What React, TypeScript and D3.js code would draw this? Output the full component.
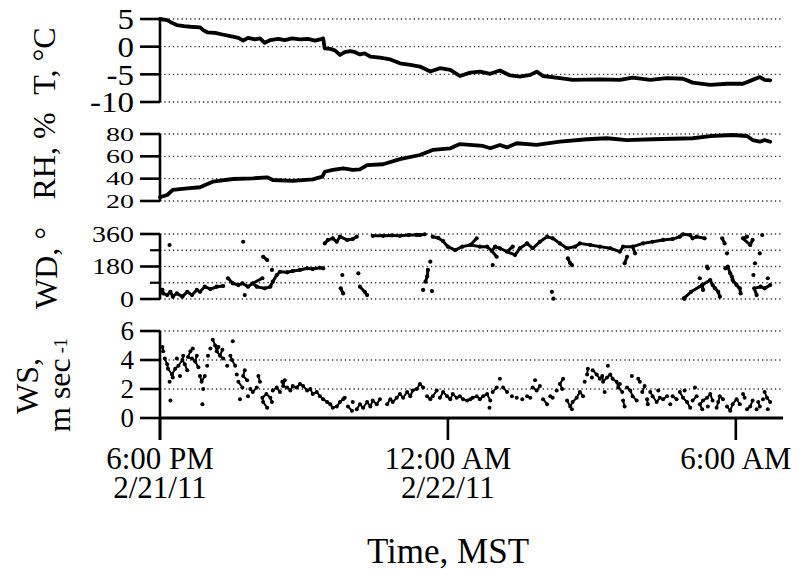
import React from 'react';
import * as d3 from 'd3';

// minutes after 6:00 PM MST, 2/21/11
const temperature: [number, number][] = [
  [0, 5.0], [9, 4.8], [15, 4.3], [21, 3.9], [30, 3.7], [38, 3.6], [50, 3.5], [54, 3.0], [59, 2.6], [69, 2.5],
  [78, 2.2], [88, 1.9], [98, 1.6], [104, 1.1], [110, 1.6], [119, 1.3], [125, 1.5], [131, 0.7], [138, 1.2],
  [148, 1.4], [156, 1.2], [165, 1.5], [175, 1.3], [185, 1.4], [194, 1.1], [200, 1.3], [204, 1.5], [206, -0.3],
  [213, -0.4], [219, -0.7], [225, -1.5], [231, -1.0], [238, -0.8], [244, -1.0], [250, -1.4], [256, -1.2],
  [263, -1.8], [275, -2.0], [288, -2.3], [300, -3.0], [313, -3.3], [325, -3.6], [338, -4.5], [350, -3.9],
  [363, -4.2], [375, -5.3], [388, -4.7], [400, -4.5], [413, -4.9], [425, -4.3], [438, -5.2], [450, -5.4],
  [463, -5.1], [471, -4.5], [479, -5.3], [500, -5.7], [516, -6.0], [550, -5.9], [575, -6.0], [591, -5.6],
  [613, -6.0], [634, -5.7], [654, -5.8], [666, -6.5], [688, -6.9], [709, -6.7], [729, -6.7], [741, -6.0],
  [750, -5.5], [756, -6.0], [763, -6.1],
];

const humidity: [number, number][] = [
  [0, 23.4], [9, 25.4], [16, 29.9], [34, 31.4], [50, 32.3], [66, 37.3], [91, 39.7], [116, 40.3], [134, 41.2],
  [141, 38.8], [166, 38.0], [191, 39.4], [203, 41.8], [206, 46.2], [216, 47.8], [229, 49.3], [241, 47.8],
  [250, 48.4], [259, 52.2], [279, 52.9], [300, 57.5], [325, 61.2], [341, 65.7], [363, 67.2], [375, 71.0],
  [404, 69.3], [413, 67.2], [425, 70.2], [434, 68.0], [446, 71.7], [471, 70.2], [500, 73.1], [534, 75.3],
  [559, 76.2], [584, 74.6], [616, 75.3], [666, 76.2], [688, 78.2], [716, 79.1], [734, 78.2], [741, 74.6],
  [750, 73.1], [756, 74.6], [763, 73.1],
];

const windDirection: [number, number][] = [
  [3, 50], [4, 31], [9, 22], [12, 299], [13, 40], [16, 13], [21, 31], [28, 13], [34, 40], [40, 22], [46, 50],
  [50, 40], [56, 68], [63, 55], [71, 68], [79, 72], [85, 115], [91, 87], [98, 77], [103, 87], [104, 317],
  [106, 22], [110, 68], [116, 87], [121, 68], [128, 115], [129, 234], [131, 59], [134, 216], [138, 68],
  [140, 161], [141, 96], [146, 133], [150, 151], [159, 148], [166, 155], [175, 161], [184, 170], [191, 166],
  [200, 173], [204, 170], [206, 308], [210, 327], [216, 336], [221, 317], [225, 345], [226, 59], [228, 133],
  [229, 31], [234, 327], [241, 332], [246, 345], [248, 142], [250, 68], [256, 40], [259, 22], [266, 350],
  [279, 350], [290, 352], [300, 350], [311, 354], [321, 355], [325, 354], [329, 50], [331, 358], [332, 96],
  [334, 124], [335, 161], [338, 207], [340, 44], [341, 345], [348, 338], [354, 320], [360, 290], [369, 271],
  [378, 290], [388, 299], [396, 336], [400, 290], [409, 290], [415, 266], [416, 188], [419, 290], [421, 234],
  [425, 281], [434, 262], [441, 290], [444, 244], [450, 281], [459, 308], [466, 281], [475, 317], [484, 345],
  [490, 40], [491, 336], [492, 2], [500, 308], [509, 281], [510, 225], [513, 198], [515, 188], [519, 290],
  [525, 308], [538, 299], [550, 290], [563, 281], [575, 262], [579, 290], [581, 198], [584, 234], [591, 290],
  [594, 253], [604, 308], [616, 317], [629, 327], [641, 332], [650, 345], [654, 358], [655, 4], [656, 2],
  [663, 354], [664, 40], [666, 336], [671, 345], [675, 115], [678, 77], [679, 50], [681, 336], [684, 179],
  [685, 170], [688, 105], [691, 77], [694, 59], [698, 40], [700, 13], [703, 336], [706, 308], [707, 170],
  [709, 253], [710, 179], [713, 142], [715, 124], [716, 105], [721, 77], [725, 59], [726, 31], [729, 336],
  [734, 345], [738, 299], [741, 327], [742, 133], [743, 59], [744, 198], [746, 22], [750, 253], [751, 68],
  [753, 354], [756, 59], [760, 115], [763, 77],
];

const windSpeed: [number, number][] = [
  [3, 4.9], [4, 4.6], [6, 4.1], [9, 3.7], [10, 3.4], [12, 2.5], [13, 1.2], [15, 3.0], [16, 2.8], [19, 3.4],
  [21, 4.1], [23, 3.6], [25, 2.9], [28, 4.0], [29, 4.3], [31, 3.7], [34, 3.3], [35, 4.2], [38, 4.6], [40, 4.1],
  [41, 4.8], [44, 3.9], [46, 4.3], [48, 3.5], [50, 2.9], [52, 2.5], [53, 0.95], [54, 2.0], [56, 2.9], [59, 3.6],
  [60, 4.3], [63, 4.8], [66, 5.4], [69, 5.0], [71, 4.6], [73, 4.9], [75, 4.3], [78, 4.7], [79, 4.1], [84, 3.6],
  [88, 4.3], [90, 4.0], [91, 5.3], [94, 3.6], [96, 3.0], [98, 2.5], [100, 1.3], [103, 2.1], [104, 2.9],
  [106, 3.3], [109, 2.6], [110, 1.5], [113, 2.0], [116, 1.8], [121, 2.1], [123, 2.9], [125, 2.5], [128, 1.4],
  [129, 1.1], [133, 1.65], [134, 0.7], [138, 1.4], [140, 1.1], [141, 1.9], [146, 2.1], [150, 1.8], [153, 2.5],
  [154, 2.2], [156, 2.6], [159, 2.1], [163, 1.9], [166, 2.2], [171, 2.1], [175, 2.35], [179, 2.2], [184, 1.9],
  [188, 2.0], [191, 1.65], [196, 1.8], [200, 1.5], [204, 1.3], [209, 1.1], [213, 0.95], [216, 0.7], [221, 0.8],
  [225, 1.1], [229, 1.3], [231, 1.4], [235, 0.8], [240, 0.5], [241, 1.1], [246, 0.6], [250, 0.95], [254, 0.7],
  [259, 1.1], [263, 0.8], [266, 1.2], [271, 0.95], [275, 1.3], [284, 0.95], [288, 1.3], [291, 1.1], [296, 1.4],
  [300, 1.65], [304, 1.4], [309, 1.8], [313, 1.5], [316, 1.9], [321, 2.0], [325, 2.35], [329, 2.1], [334, 1.5],
  [338, 1.3], [341, 1.5], [346, 1.9], [350, 1.4], [354, 1.8], [359, 1.5], [363, 1.3], [366, 1.65], [371, 1.4],
  [375, 1.5], [379, 1.3], [384, 1.2], [388, 1.3], [391, 1.4], [396, 1.5], [400, 1.3], [404, 1.5], [409, 1.65],
  [412, 0.7], [413, 1.2], [416, 1.8], [421, 2.1], [425, 2.7], [429, 2.1], [434, 1.8], [440, 1.5], [446, 1.4],
  [453, 1.3], [459, 1.5], [463, 1.4], [466, 2.1], [469, 2.6], [471, 1.9], [475, 2.2], [479, 1.3], [484, 0.95],
  [488, 1.5], [491, 1.4], [496, 1.9], [500, 2.35], [503, 2.0], [504, 2.7], [509, 1.2], [513, 0.8], [515, 0.6],
  [516, 1.1], [521, 1.4], [525, 1.8], [529, 1.5], [531, 2.5], [534, 3.0], [535, 3.4], [540, 2.8], [541, 3.3],
  [546, 3.0], [550, 2.7], [553, 2.9], [554, 2.5], [556, 1.8], [559, 2.8], [560, 3.6], [563, 3.0], [566, 2.7],
  [571, 2.5], [573, 2.1], [575, 2.35], [578, 1.8], [579, 1.2], [581, 0.8], [584, 2.1], [588, 1.9], [590, 2.9],
  [591, 1.5], [596, 1.2], [598, 2.7], [600, 2.5], [603, 1.8], [606, 2.2], [609, 1.3], [610, 0.95], [613, 1.8],
  [616, 1.5], [621, 1.1], [623, 1.9], [625, 1.4], [629, 1.3], [634, 1.5], [638, 0.95], [641, 1.5], [646, 1.3],
  [650, 1.8], [654, 1.4], [656, 1.9], [659, 1.1], [663, 0.7], [666, 1.2], [669, 2.1], [671, 1.5], [675, 0.95],
  [678, 0.6], [679, 1.2], [684, 1.4], [685, 0.8], [688, 1.65], [691, 1.2], [696, 0.7], [698, 1.1], [700, 1.5],
  [704, 1.3], [709, 0.8], [713, 0.5], [716, 0.95], [721, 1.3], [725, 0.95], [729, 1.65], [731, 1.4], [734, 0.6],
  [738, 0.8], [741, 1.2], [746, 0.6], [748, 1.1], [750, 0.8], [754, 1.3], [756, 1.8], [759, 1.4], [760, 0.6],
  [763, 1.1],
];

const tempTicks = [5, 0, -5, -10];
const rhTicks = [80, 60, 40, 20];
const wdTicks = [360, 180, 0];
const wdMinorTicks = [270, 90];
const wsTicks = [6, 4, 2, 0];

const timeTickMinutes = [0, 360, 720];
const timeTickLabels = ['6:00 PM', '12:00 AM', '6:00 AM'];
const dateTickLabels = ['2/21/11', '2/22/11', ''];

const START = new Date(2011, 1, 21, 18, 0);
const at = (m: number) => new Date(START.getTime() + m * 60000);

const FONT = "'Liberation Serif', 'Times New Roman', serif";
const X0 = 160;
const X1 = 783;

const x = d3.scaleTime().domain([at(0), at(779)]).range([X0, X1]);

type Panel = {
  domain: [number, number];
  range: [number, number];
  ticks: number[];
  minor: number[];
  grid: number[];
  font: number;
  sx: number;
  sy: number;
  axisBottom: number;
};

const panels: Panel[] = [
  { domain: [-10, 5], range: [102, 19], ticks: tempTicks, minor: [], grid: tempTicks, font: 30, sx: 1.1, sy: 1.0, axisBottom: 102 },
  { domain: [20, 80], range: [201, 134], ticks: rhTicks, minor: [], grid: rhTicks, font: 28, sx: 1.0, sy: 0.7, axisBottom: 201 },
  { domain: [0, 360], range: [299, 234], ticks: wdTicks, minor: wdMinorTicks, grid: [...wdTicks, ...wdMinorTicks], font: 28, sx: 1.0, sy: 0.82, axisBottom: 299 },
  { domain: [0, 6], range: [418, 331], ticks: wsTicks, minor: [], grid: [6, 4, 2], font: 27, sx: 1.0, sy: 1.0, axisBottom: 440 },
];

function links(data: [number, number][], maxDt: number, maxDv: number) {
  const segs: [[number, number], [number, number]][] = [];
  for (let i = 1; i < data.length; i++) {
    for (let j = i - 1; j >= Math.max(0, i - 5); j--) {
      if (data[i][0] - data[j][0] <= maxDt && Math.abs(data[i][1] - data[j][1]) <= maxDv) {
        segs.push([data[j], data[i]]);
        break;
      }
    }
  }
  return segs;
}

export default function App() {
  const scales = panels.map((p) => d3.scaleLinear().domain(p.domain).range(p.range));
  const [yT, yRH, yWD, yWS] = scales;

  const lineT = d3.line<[number, number]>().x((d) => x(at(d[0]))).y((d) => yT(d[1]));
  const lineRH = d3.line<[number, number]>().x((d) => x(at(d[0]))).y((d) => yRH(d[1]));

  const wdLinks = links(windDirection, 14, 37);
  const wsLinks = links(windSpeed, 5, 0.45);

  return (
    <svg width={807} height={573} style={{ position: 'absolute', left: 0, top: 0, background: '#fff' }} fontFamily={FONT}>
      <rect width={807} height={573} fill="#fff" />
      {panels.map((p, pi) => {
        const y = scales[pi];
        return (
          <g key={pi}>
            {p.grid.map((v) => (
              <line key={'g' + v} x1={X0} x2={X1} y1={y(v)} y2={y(v)} stroke="#333" strokeWidth={1.3} strokeDasharray="1.3 3" />
            ))}
            <line x1={X0} x2={X0} y1={y(p.domain[1])} y2={p.axisBottom} stroke="#000" strokeWidth={2.6} />
            {p.ticks.map((v) => (
              <line key={'t' + v} x1={140} x2={X0} y1={y(v)} y2={y(v)} stroke="#000" strokeWidth={2.6} />
            ))}
            {p.minor.map((v) => (
              <line key={'m' + v} x1={150} x2={X0} y1={y(v)} y2={y(v)} stroke="#000" strokeWidth={2.2} />
            ))}
            {p.ticks.map((v) => (
              <text
                key={'l' + v}
                transform={`translate(134,${y(v)}) scale(${p.sx},${p.sy})`}
                textAnchor="end"
                dy="0.34em"
                fontSize={p.font}
                fill="#000"
              >
                {v}
              </text>
            ))}
          </g>
        );
      })}

      {/* bottom time axis */}
      <line x1={X0} x2={X1} y1={yWS(0)} y2={yWS(0)} stroke="#000" strokeWidth={2.8} />
      {timeTickMinutes.map((m, i) => (
        <g key={'x' + m}>
          <line x1={x(at(m))} x2={x(at(m))} y1={yWS(0)} y2={440} stroke="#000" strokeWidth={2.6} />
          <text x={x(at(m))} y={469} textAnchor="middle" fontSize={31} fill="#000">{timeTickLabels[i]}</text>
          {dateTickLabels[i] && (
            <text x={x(at(m))} y={498} textAnchor="middle" fontSize={31} fill="#000">{dateTickLabels[i]}</text>
          )}
        </g>
      ))}
      <text x={448} y={563} textAnchor="middle" fontSize={35} fill="#000">Time, MST</text>

      {/* y-axis titles */}
      <text transform="translate(55,61) rotate(-90)" textAnchor="middle" fontSize={32} fill="#000">T, °C</text>
      <text transform="translate(55,156) rotate(-90)" textAnchor="middle" fontSize={32} fill="#000">RH, %</text>
      <text transform="translate(57,268) rotate(-90)" textAnchor="middle" fontSize={32} fill="#000">WD, °</text>
      <text transform="translate(38,386) rotate(-90)" textAnchor="middle" fontSize={32} fill="#000">WS,</text>
      <text transform="translate(70,432) rotate(-90)" textAnchor="start" fontSize={32} fill="#000">
        m sec
        <tspan fontSize={18} dx={5} dy={-3}>-1</tspan>
      </text>

      {/* data */}
      <path d={lineT(temperature) || ''} fill="none" stroke="#000" strokeWidth={3.8} strokeLinejoin="round" strokeLinecap="round" />
      <path d={lineRH(humidity) || ''} fill="none" stroke="#000" strokeWidth={3.8} strokeLinejoin="round" strokeLinecap="round" />

      {wdLinks.map(([a, b], i) => (
        <line key={'wdl' + i} x1={x(at(a[0]))} y1={yWD(a[1])} x2={x(at(b[0]))} y2={yWD(b[1])} stroke="#000" strokeWidth={3} strokeLinecap="round" />
      ))}
      {windDirection.map((d, i) => (
        <circle key={'wd' + i} cx={x(at(d[0]))} cy={yWD(d[1])} r={2.1} fill="#000" />
      ))}

      {wsLinks.map(([a, b], i) => (
        <line key={'wsl' + i} x1={x(at(a[0]))} y1={yWS(a[1])} x2={x(at(b[0]))} y2={yWS(b[1])} stroke="#000" strokeWidth={2.0} strokeLinecap="round" />
      ))}
      {windSpeed.map((d, i) => (
        <circle key={'ws' + i} cx={x(at(d[0]))} cy={yWS(d[1])} r={2.0} fill="#000" />
      ))}
    </svg>
  );
}
